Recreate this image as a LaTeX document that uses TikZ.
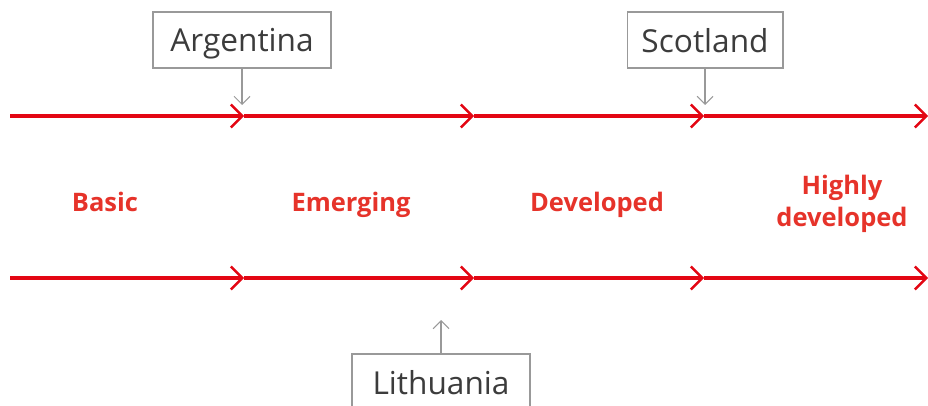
\documentclass[tikz,border=0pt]{standalone}
\usepackage{fontspec}
\setmainfont{Open Sans}
\usepackage{xcolor}
\usetikzlibrary{arrows.meta,positioning}
\definecolor{scalered}{HTML}{E30613}
\definecolor{labelred}{HTML}{E6332A}
\definecolor{boxgray}{HTML}{999999}
\definecolor{textgray}{HTML}{3C3C3C}

\begin{document}
\begin{tikzpicture}[
    x=0.02cm, y=-0.02cm,
    scaleline/.style={draw=scalered, line width=1.9pt, -{Straight Barb[length=6.5pt, width=13pt, line width=1.4pt]}},
    stage/.style={font=\fontsize{14.5}{18.5}\selectfont\bfseries, text=labelred, align=center},
    country/.style={rectangle, draw=boxgray, line width=0.6pt, fill=white, minimum height=1.12cm, text depth=0pt, font=\fontsize{18}{21}\selectfont, text=textgray},
    pointer/.style={draw=boxgray, line width=0.6pt, -{Straight Barb[length=4.5pt, width=9pt, line width=0.6pt]}}
]
\useasboundingbox (0,0) rectangle (928,405);

% Points on the two scales
\coordinate (u0) at (10,116);
\coordinate (u1) at (244,116);
\coordinate (u2) at (474,116);
\coordinate (u3) at (704,116);
\coordinate (u4) at (928,116);
\coordinate (l0) at (10,278);
\coordinate (l1) at (244,278);
\coordinate (l2) at (474,278);
\coordinate (l3) at (704,278);
\coordinate (l4) at (928,278);

% Upper and lower scale
\draw[scaleline] (u0) -- (u1);
\draw[scaleline] (u1) -- (u2);
\draw[scaleline] (u2) -- (u3);
\draw[scaleline] (u3) -- (u4);
\draw[scaleline] (l0) -- (l1);
\draw[scaleline] (l1) -- (l2);
\draw[scaleline] (l2) -- (l3);
\draw[scaleline] (l3) -- (l4);

% Stages
\node[stage, anchor=base] (basic) at (105,211) {Basic};
\node[stage, anchor=base] (emerging) at (351,211) {Emerging};
\node[stage, anchor=base] (developed) at (597,211) {Developed};
\node[stage] (highly) at (842,204) {Highly\\developed};

% Countries
\node[country, minimum width=3.56cm] (argentina) at (242,40) {Argentina};
\node[country, minimum width=3.12cm] (scotland) at (705,40) {Scotland};
\node[country, minimum width=3.56cm] (lithuania) at (441,382) {Lithuania};

\coordinate (argtip) at (242,105);
\coordinate (scotip) at (705,105);
\coordinate (lithtip) at (441,320);
\draw[pointer] (argentina) -- (argtip);
\draw[pointer] (scotland) -- (scotip);
\draw[pointer] (lithuania) -- (lithtip);

\end{tikzpicture}
\end{document}
